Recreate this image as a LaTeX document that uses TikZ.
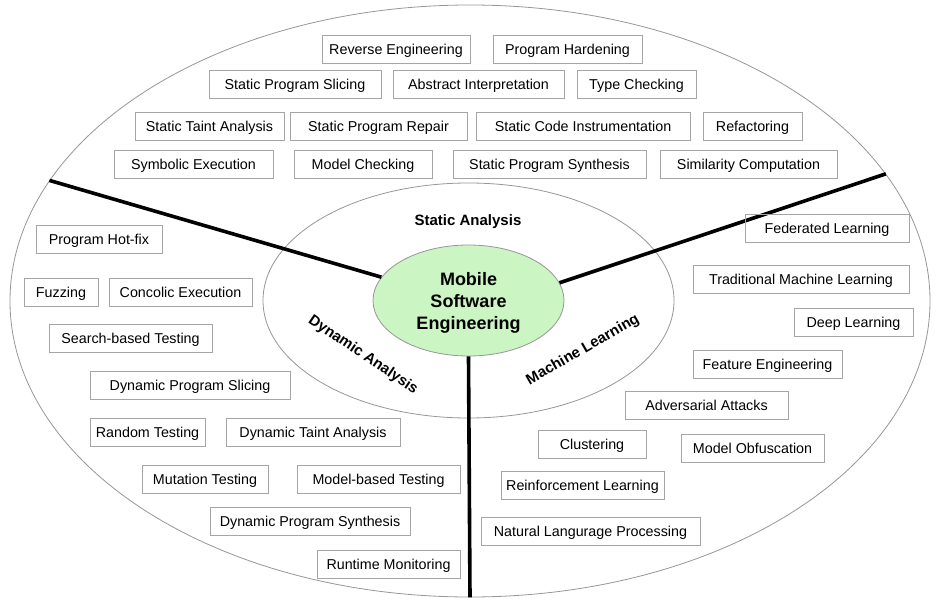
\documentclass[tikz,border=0pt]{standalone}
\usepackage{fontspec}
\setmainfont{Liberation Sans}
\usepackage{tikz}
\usetikzlibrary{shapes.geometric, positioning}
\definecolor{ringColor}{RGB}{150,150,150}
\definecolor{boxColor}{RGB}{165,165,165}
\definecolor{coreColor}{RGB}{204,245,196}

\begin{document}
\begin{tikzpicture}[
        x=1pt, y=-1pt,
        item/.style={rectangle, draw=boxColor, line width=0.9pt, minimum width=#1, minimum height=28, inner sep=0pt, text height=10.3pt, text depth=0pt, font=\fontsize{14.3}{17}\selectfont},
        item/.default=100,
        ring/.style={ellipse, draw=ringColor, line width=0.8pt, inner sep=0pt},
        core/.style={ring, fill=coreColor, align=center, text depth=0pt, font=\fontsize{18}{22}\selectfont\bfseries},
        topic/.style={font=\fontsize{15}{18}\selectfont\bfseries},
        divider/.style={draw=black, line width=3.6pt}
    ]
    \useasboundingbox (0,0) rectangle (945,607);
    % Rings
    \node (outer) [ring, minimum width=920, minimum height=592] at (470,301) {};
    \node (inner) [ring, minimum width=411, minimum height=235] at (468.5,300.5) {};
    \node (mse) [core, minimum width=191, minimum height=111] at (468.5,300.5) {Mobile\\Software\\Engineering};

    % Dividers
    \path [divider] (mse.165) -- (outer.164);
    \path [divider] (mse.11) -- (outer.17);
    \path [divider] (mse.south) -- (outer.south);

    % Areas
    \node (static) [topic] at (468,222) {Static Analysis};
    \node (dynamic) [topic, rotate=-34] at (363,355) {Dynamic Analysis};
    \node (learning) [topic, rotate=30] at (583,350) {Machine Learning};

    % Static analysis
    \node (revEng) [item=148] at (396,49.5) {Reverse Engineering};
    \node (hardening) [item=149] at (567.5,49) {Program Hardening};
    \node (staticSlicing) [item=172] at (295,84.5) {Static Program Slicing};
    \node (absInterp) [item=171] at (478.5,84.5) {Abstract Interpretation};
    \node (typeCheck) [item=119] at (636.5,84.5) {Type Checking};
    \node (staticTaint) [item=149] at (209.5,126) {Static Taint Analysis};
    \node (staticRepair) [item=177] at (378.5,126) {Static Program Repair};
    \node (codeInstr) [item=214] at (583,126) {Static Code Instrumentation};
    \node (refactor) [item=99] at (752.5,126) {Refactoring};
    \node (symExec) [item=159] at (193.5,164) {Symbolic Execution};
    \node (modelCheck) [item=138] at (363,164) {Model Checking};
    \node (staticSynth) [item=193] at (549.5,164) {Static Program Synthesis};
    \node (similarity) [item=177] at (748.5,164) {Similarity Computation};

    % Dynamic analysis
    \node (hotfix) [item=126] at (99,239.5) {Program Hot-fix};
    \node (fuzzing) [item=74] at (61,292) {Fuzzing};
    \node (concolic) [item=143] at (180.5,292) {Concolic Execution};
    \node (searchTest) [item=163] at (130.5,338) {Search-based Testing};
    \node (dynSlicing) [item=200] at (190,385) {Dynamic Program Slicing};
    \node (randomTest) [item=115] at (147.5,432) {Random Testing};
    \node (dynTaint) [item=174] at (313,432) {Dynamic Taint Analysis};
    \node (mutation) [item=126] at (205,479) {Mutation Testing};
    \node (modelTest) [item=163] at (378.5,479) {Model-based Testing};
    \node (dynSynth) [item=200] at (310,521) {Dynamic Program Synthesis};
    \node (runtime) [item=143] at (388.5,564) {Runtime Monitoring};

    % Machine learning
    \node (federated) [item=164] at (827,228) {Federated Learning};
    \node (tradML) [item=216] at (801,279.5) {Traditional Machine Learning};
    \node (deepL) [item=119] at (853.5,322.5) {Deep Learning};
    \node (featEng) [item=149] at (767.5,364) {Feature Engineering};
    \node (adversarial) [item=163] at (706.5,405) {Adversarial Attacks};
    \node (clustering) [item=108] at (592,444.5) {Clustering};
    \node (obfuscation) [item=143] at (752.5,448) {Model Obfuscation};
    \node (reinforce) [item=163] at (582.5,485) {Reinforcement Learning};
    \node (nlp) [item=219] at (590.5,531) {Natural Langurage Processing};
\end{tikzpicture}
\end{document}
